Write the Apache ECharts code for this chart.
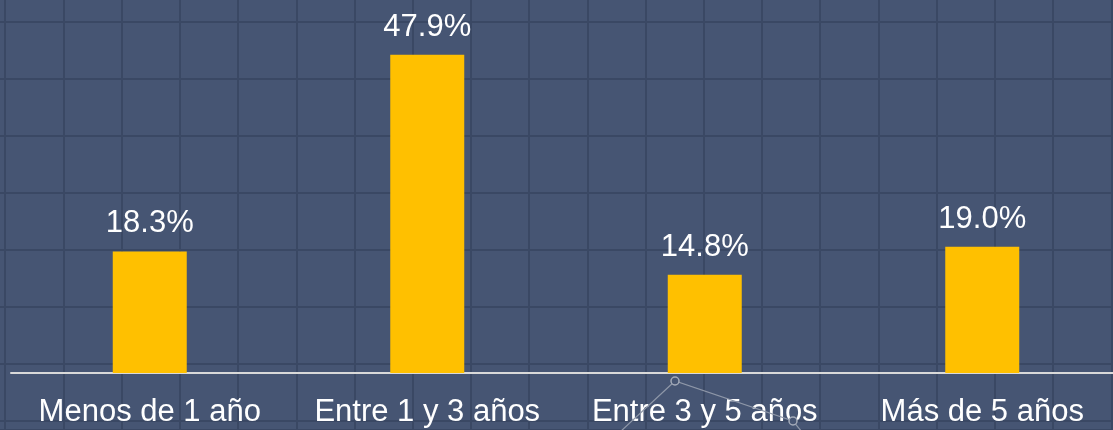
<!DOCTYPE html>
<html>
<head>
<meta charset="utf-8">
<script src="https://cdn.jsdelivr.net/npm/echarts@6/dist/echarts.min.js"></script>
<style>
  html, body { margin: 0; padding: 0; background: #465573; }
  #chart { width: 1113px; height: 430px; }
</style>
</head>
<body>
<div id="chart"></div>
<script>
const categories = ['Menos de 1 año', 'Entre 1 y 3 años', 'Entre 3 y 5 años', 'Más de 5 años'];
const shares = [18.3, 47.9, 14.8, 19.0];

const myChart = echarts.init(document.getElementById('chart'));

const option = {
  backgroundColor: '#465573',
  animation: false,
  grid: [
    // main chart
    { left: 11, right: -8, top: 1, bottom: 57, outerBoundsMode: 'none' },
    // backdrop squares of the slide
    { left: -53, right: 0, top: -35, bottom: 0, outerBoundsMode: 'none' }
  ],
  xAxis: [
    {
      type: 'category',
      data: categories,
      gridIndex: 0,
      axisLine: { lineStyle: { color: '#d9d9d9', width: 2 } },
      axisTick: { show: false },
      axisLabel: {
        interval: 0,
        color: '#ffffff',
        fontSize: 31,
        fontFamily: 'Liberation Sans, Arial',
        margin: 24
      }
    },
    {
      type: 'value',
      gridIndex: 1,
      min: 0, max: 20.03, interval: 1,
      axisLine: { show: false }, axisTick: { show: false }, axisLabel: { show: false },
      splitLine: { show: true, lineStyle: { color: '#3a4864', width: 2 } }
    }
  ],
  yAxis: [
    {
      type: 'value',
      gridIndex: 0,
      min: 0, max: 56,
      show: false,
      splitLine: { show: false }
    },
    {
      type: 'value',
      gridIndex: 1,
      min: 0, max: 8.16, interval: 1,
      inverse: true,
      axisLine: { show: false }, axisTick: { show: false }, axisLabel: { show: false },
      splitLine: { show: true, lineStyle: { color: '#3a4864', width: 2 } }
    }
  ],
  graphic: [
    {
      type: 'polyline', z: 1,
      shape: { points: [[620, 432], [675, 381], [793, 421], [802, 432]] },
      style: { stroke: '#8e97a8', lineWidth: 1.2, fill: null }
    },
    {
      type: 'circle', z: 2,
      shape: { cx: 675, cy: 381, r: 4 },
      style: { stroke: '#a4abb9', lineWidth: 1.5, fill: '#465573' }
    },
    {
      type: 'circle', z: 2,
      shape: { cx: 793, cy: 421, r: 4 },
      style: { stroke: '#a4abb9', lineWidth: 1.5, fill: '#465573' }
    }
  ],
  series: [
    {
      type: 'bar',
      xAxisIndex: 0,
      yAxisIndex: 0,
      data: shares,
      barWidth: 74,
      z: 5,
      itemStyle: { color: '#ffc000' },
      label: {
        show: true,
        position: 'top',
        distance: 12,
        color: '#ffffff',
        fontSize: 31,
        fontFamily: 'Liberation Sans, Arial',
        formatter: p => p.value.toFixed(1) + '%'
      }
    }
  ]
};

myChart.setOption(option);
</script>
</body>
</html>
